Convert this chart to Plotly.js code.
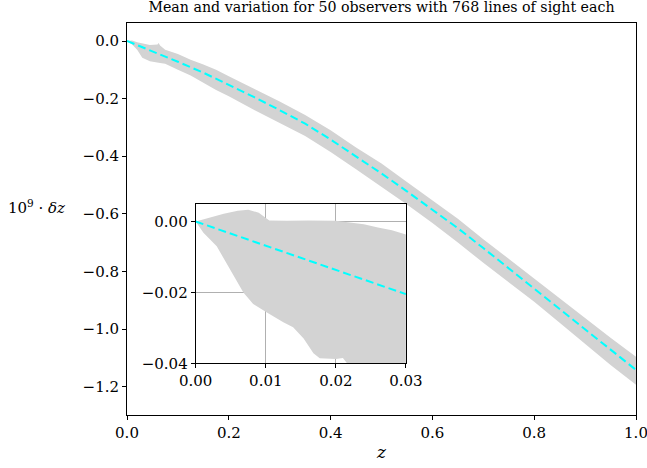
<!DOCTYPE html>
<html>
<head>
<meta charset="utf-8">
<script src="https://cdn.plot.ly/plotly-3.0.1.min.js"></script>
<style>html,body{margin:0;padding:0;background:#fff;}#chart{width:647px;height:468px;}</style>
</head>
<body>
<div id="chart"></div>
<script>
// Main panel: mean line
var meanZ = [0, 0.05, 0.1, 0.15, 0.2, 0.25, 0.3, 0.35, 0.4, 0.45, 0.5, 0.55, 0.6, 0.65, 0.7, 0.75, 0.8, 0.85, 0.9, 0.95, 1.0];
var meanDz = [0, -0.035, -0.072, -0.11, -0.152, -0.195, -0.24, -0.287, -0.342, -0.40, -0.46, -0.522, -0.585, -0.650, -0.719, -0.789, -0.859, -0.930, -1.000, -1.071, -1.142];

// Main panel: variation band
var bandZ     = [0, 0.01, 0.02, 0.03, 0.045, 0.06, 0.062, 0.065, 0.075, 0.1, 0.125, 0.15, 0.175, 0.2, 0.25, 0.3, 0.35, 0.4, 0.45, 0.5, 0.55, 0.6, 0.65, 0.7, 0.75, 0.8, 0.85, 0.9, 0.95, 1.0];
var bandUpper = [0, 0.002, -0.004, -0.008, -0.014, -0.012, -0.007, -0.016, -0.03, -0.045, -0.065, -0.082, -0.1, -0.122, -0.165, -0.21, -0.257, -0.31, -0.37, -0.425, -0.49, -0.552, -0.617, -0.688, -0.757, -0.825, -0.895, -0.962, -1.03, -1.096];
var bandLower = [0, -0.012, -0.03, -0.058, -0.07, -0.074, -0.075, -0.076, -0.079, -0.1, -0.12, -0.145, -0.17, -0.192, -0.24, -0.285, -0.33, -0.385, -0.445, -0.505, -0.568, -0.632, -0.7, -0.77, -0.838, -0.905, -0.978, -1.05, -1.125, -1.194];

// Inset: mean line
var insetMeanZ = [0, 0.01, 0.02, 0.03];
var insetMeanDz = [0, -0.0068, -0.0137, -0.0205];

// Inset: band edges
var insetUpperZ = [0, 0.002, 0.004, 0.006, 0.0075, 0.009, 0.0105, 0.013, 0.016, 0.02, 0.022, 0.024, 0.026, 0.028, 0.03];
var insetUpper  = [0, 0.0012, 0.0022, 0.003, 0.0033, 0.0025, 0.0003, 0.0002, 0.0003, 0.0002, -0.0002, -0.0008, -0.0017, -0.0025, -0.0037];
var insetLowerZ = [0, 0.0011, 0.003, 0.0049, 0.0068, 0.0082, 0.0101, 0.0125, 0.0139, 0.0154, 0.0168, 0.0177, 0.02, 0.021, 0.022, 0.03];
var insetLower  = [0, -0.0032, -0.007, -0.0135, -0.020, -0.0233, -0.0256, -0.0284, -0.0298, -0.033, -0.0372, -0.0386, -0.0388, -0.0385, -0.041, -0.06];

var mainTicksX = [0, 0.2, 0.4, 0.6, 0.8, 1.0];
var mainTicksY = [0, -0.2, -0.4, -0.6, -0.8, -1.0, -1.2];
var insetTicksX = [0, 0.01, 0.02, 0.03];
var insetTicksY = [0, -0.02, -0.04];

var titleText = 'Mean and variation for 50 observers with 768 lines of sight each';
var yLabel = '10<sup>9</sup> · <i>δz</i>';
var xLabel = '<i>z</i>';

function polygon(xu, yu, xl, yl) {
  var px = xu.slice().concat(xl.slice().reverse());
  var py = yu.slice().concat(yl.slice().reverse());
  return {x: px, y: py};
}

var band = polygon(bandZ, bandUpper, bandZ, bandLower);
var iband = polygon(insetUpperZ, insetUpper, insetLowerZ, insetLower);

var FONT = 'DejaVu Serif';
var GRAY = '#d3d3d3';
var CYAN = '#00ffff';

var traces = [
  {x: band.x, y: band.y, type: 'scatter', mode: 'lines', fill: 'toself', fillcolor: GRAY,
   line: {width: 0, color: GRAY}, hoverinfo: 'skip', showlegend: false, xaxis: 'x', yaxis: 'y'},
  {x: meanZ, y: meanDz, type: 'scatter', mode: 'lines', line: {color: CYAN, width: 2, dash: '8px,4px'},
   showlegend: false, xaxis: 'x', yaxis: 'y'},
  {x: iband.x, y: iband.y, type: 'scatter', mode: 'lines', fill: 'toself', fillcolor: GRAY,
   line: {width: 0, color: GRAY}, hoverinfo: 'skip', showlegend: false, xaxis: 'x2', yaxis: 'y2'},
  {x: insetMeanZ, y: insetMeanDz, type: 'scatter', mode: 'lines', line: {color: CYAN, width: 2, dash: '8px,4px'},
   showlegend: false, xaxis: 'x2', yaxis: 'y2'}
];

var tickFont = {family: FONT, size: 15, color: '#000'};

var layout = {
  width: 647, height: 468,
  margin: {l: 127, r: 11, t: 23, b: 53, pad: 0},
  paper_bgcolor: '#fff', plot_bgcolor: '#fff',
  showlegend: false,
  title: {text: titleText, font: {family: FONT, size: 14.2, color: '#000'},
          xref: 'paper', x: 0.5, xanchor: 'center', yref: 'container', y: 0.985, yanchor: 'middle'},
  xaxis: {domain: [0, 1], range: [0, 1], tickvals: mainTicksX, tickformat: '.1f', ticklabeloverflow: 'allow',
          showgrid: false, zeroline: false, showline: true, mirror: true, linecolor: '#000', linewidth: 1,
          ticks: 'outside', ticklen: 4, tickcolor: '#000', tickwidth: 1, tickfont: tickFont,
          title: {text: xLabel, font: {family: FONT, size: 17, color: '#000'}, standoff: 5}},
  yaxis: {domain: [0, 1], range: [-1.2986, 0.0625], tickvals: mainTicksY, tickformat: '.1f', ticklabeloverflow: 'allow',
          showgrid: false, zeroline: false, showline: true, mirror: true, linecolor: '#000', linewidth: 1,
          ticks: 'outside', ticklen: 4, tickcolor: '#000', tickwidth: 1, tickfont: tickFont},
  xaxis2: {domain: [0.135, 0.548], range: [0, 0.03], tickvals: insetTicksX, tickformat: '.2f', anchor: 'y2', ticklabeloverflow: 'allow',
           showgrid: true, gridcolor: '#b0b0b0', gridwidth: 1, zeroline: false, showline: true, mirror: true,
           linecolor: '#000', linewidth: 1, ticks: 'outside', ticklen: 4, tickcolor: '#000', tickfont: tickFont},
  yaxis2: {domain: [0.1319, 0.5375], range: [-0.04, 0.00485], tickvals: insetTicksY, tickformat: '.2f', anchor: 'x2', ticklabeloverflow: 'allow',
           showgrid: true, gridcolor: '#b0b0b0', gridwidth: 1, zeroline: false, showline: true, mirror: true,
           linecolor: '#000', linewidth: 1, ticks: 'outside', ticklen: 4, tickcolor: '#000', tickfont: tickFont},
  annotations: [
    {text: yLabel, xref: 'paper', yref: 'paper', x: -0.118, y: 0.5306, xanchor: 'right', yanchor: 'middle',
     showarrow: false, font: {family: FONT, size: 15, color: '#000'}}
  ]
};

Plotly.newPlot('chart', traces, layout, {staticPlot: true, displayModeBar: false});
</script>
</body>
</html>
